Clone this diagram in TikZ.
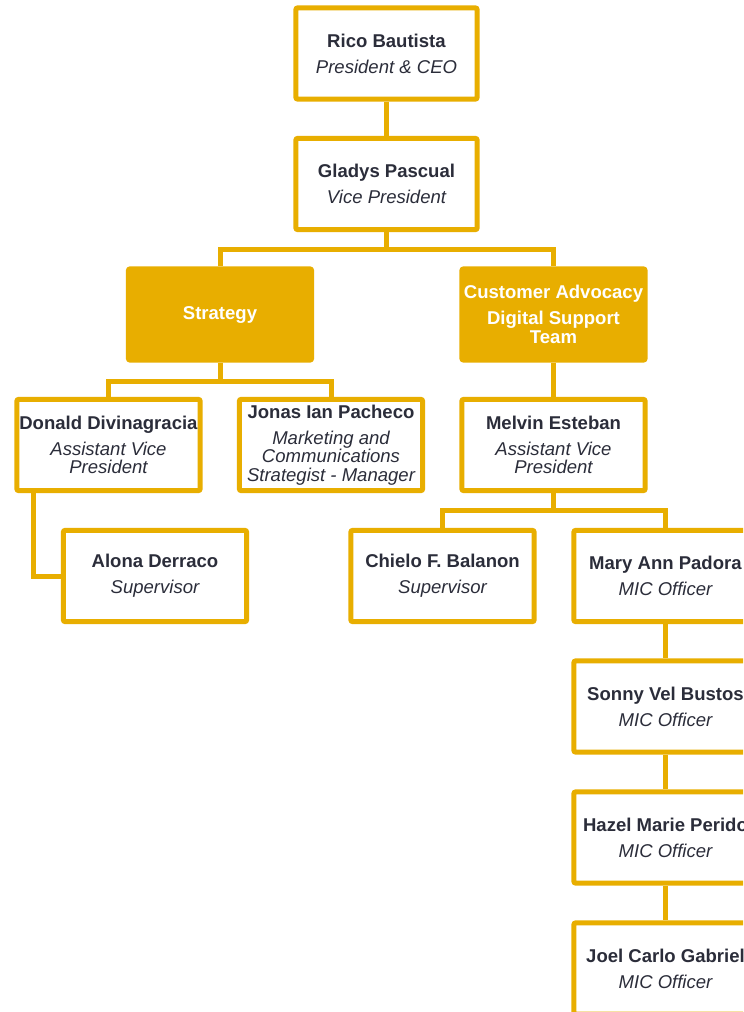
\documentclass[tikz,border=0pt]{standalone}
\usepackage{fontspec}
\setmainfont{Liberation Sans}
\usetikzlibrary{positioning}
\definecolor{orggold}{RGB}{232,174,0}
\definecolor{orgtext}{RGB}{43,45,58}
\newcommand{\staff}[2]{\textbf{#1}\\[5.5pt]\itshape #2}
\newcommand{\itnl}{\\\itshape}
\tikzset{
  unit/.style={draw=orggold, line width=3.75pt, rounded corners=1.5pt, fill=white,
    minimum width=137.5pt, minimum height=68.5pt, inner sep=0pt, align=center,
    text=orgtext, font=\fontsize{13.9}{14}\selectfont},
  dept/.style={unit, fill=orggold, text=white},
  link/.style={draw=orggold, line width=3.75pt}
}
\begin{document}
\begin{tikzpicture}[x=0.75pt, y=-0.75pt]
  \useasboundingbox (0,0) rectangle (743,1012);
  \clip (0,0) rectangle (743,1012);
  \fill[white] (0,0) rectangle (743,1012);
  % top
  \node[unit, minimum width=136pt] (rico) at (386.5,53.5) {\staff{Rico Bautista}{President \& CEO}};
  \node[unit, minimum width=136pt] (gladys) at (386.5,184) {\staff{Gladys Pascual}{Vice President}};
  % departments
  \node[dept] (strategy) at (220,314.5) {\textbf{Strategy}};
  \node[dept] (cad) at (553.5,314.5) {\textbf{Customer Advocacy}\\[5.5pt]\bfseries Digital Support\\\bfseries Team};
  % managers
  \node[unit] (donald) at (108.5,445) {\staff{Donald Divinagracia}{Assistant Vice\itnl President}};
  \node[unit] (jonas) at (331,445) {\staff{Jonas Ian Pacheco}{Marketing and\itnl Communications\itnl Strategist - Manager}};
  \node[unit] (melvin) at (553.5,445) {\staff{Melvin Esteban}{Assistant Vice\itnl President}};
  % staff
  \node[unit] (alona) at (155,576) {\staff{Alona Derraco}{Supervisor}};
  \node[unit] (chielo) at (442.5,576) {\staff{Chielo F. Balanon}{Supervisor}};
  \node[unit] (mary) at (665.5,576) {\staff{Mary Ann Padora}{MIC Officer}};
  \node[unit] (sonny) at (665.5,706.5) {\staff{Sonny Vel Bustos}{MIC Officer}};
  \node[unit] (hazel) at (665.5,837.5) {\staff{Hazel Marie Perido}{MIC Officer}};
  \node[unit] (joel) at (665.5,968.5) {\staff{Joel Carlo Gabriel}{MIC Officer}};
  % links
  \coordinate (split1) at (386.5,250);
  \coordinate (split2) at (220,381);
  \coordinate (split3) at (553.5,510);
  \draw[link] (rico.south) -- (gladys.north);
  \draw[link] (gladys.south) -- (split1);
  \draw[link] (strategy.north) |- (split1) -| (cad.north);
  \draw[link] (strategy.south) -- (split2);
  \draw[link] (donald.north) |- (split2) -| (jonas.north);
  \draw[link] (cad.south) -- (melvin.north);
  \draw[link] ([xshift=14.6pt]donald.south west) |- (alona.west);
  \draw[link] (melvin.south) -- (split3);
  \draw[link] (chielo.north) |- (split3) -| (mary.north);
  \foreach \a/\b in {mary/sonny, sonny/hazel, hazel/joel}
    \draw[link] (\a.south) -- (\b.north);
\end{tikzpicture}
\end{document}
